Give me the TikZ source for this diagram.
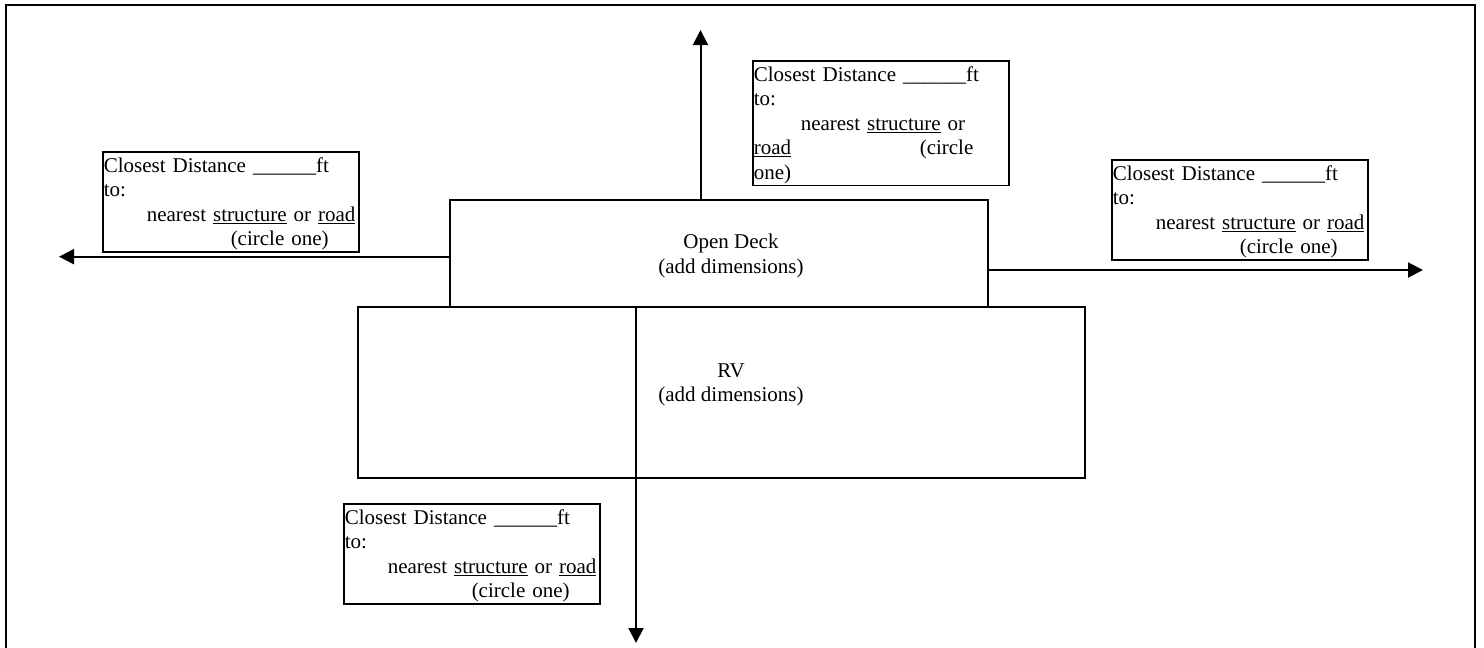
\documentclass[tikz,border=0pt]{standalone}
\usepackage{fontspec}
\setmainfont{Liberation Serif}
\usepackage{tikz}
\usetikzlibrary{arrows.meta}
\newcommand{\blankft}{Closest Distance \_\_\_\_\_\_ft}
\newcommand{\nearestline}{\mbox{nearest \underline{structure} or \underline{road}}}
\newcommand{\topstrut}{\rule{0pt}{19.5pt}}
\newcommand{\botstrut}{\rule[-5pt]{0pt}{5pt}}

\begin{document}
\begin{tikzpicture}[x=1pt,y=-1pt,line width=2pt,every node/.style={font=\fontsize{21}{24.5}\selectfont},area/.style n args={2}{draw,rectangle,minimum width=#1,minimum height=#2,inner sep=0pt,outer sep=0pt},distbox/.style={draw,rectangle,line width=1.5pt,anchor=north west,align=left,text width=254pt,inner xsep=1pt,inner ysep=1pt},dirarrow/.style={-{Triangle[length=15pt,width=15pt]}}]
\useasboundingbox (0,0) rectangle (1484,648);
\draw (6,648) -- (6,5) -- (1475,5) -- (1475,648);
\node[area={538pt}{106.7pt}] (deck) at (719,253.3) {};
\node[area={726.5pt}{171.3pt}] (rv) at (721.25,392.3) {};
\node[align=center] (decklbl) at (731,256) {Open Deck\\(add dimensions)};
\node[align=center] (rvlbl) at (731,385) {RV\\(add dimensions)};
\coordinate (ntip) at (700.5,30);
\coordinate (stip) at (636,643);
\coordinate (wtip) at (59,256.7);
\coordinate (etip) at (1423,270);
\draw[dirarrow] (deck.north -| ntip) -- (ntip);
\draw[dirarrow] (rv.north -| stip) -- (stip);
\draw[dirarrow] (deck.west |- wtip) -- (wtip);
\draw[dirarrow] (deck.east |- etip) -- (etip);
\node[distbox] (nbox) at (752,60) {\topstrut\blankft\\to:\\\hspace*{47pt}nearest \underline{structure} or\\\makebox[166pt][l]{\underline{road}}(circle\\one)\botstrut};
\foreach \n/\x/\y in %
{wbox/102/151,ebox/1111/159,sbox/343/503} {
   \node[distbox] (\n) at (\x,\y) {\topstrut\blankft\\to:\\\hspace*{43pt}\nearestline\\\hspace*{127pt}(circle one)\botstrut};
}
\end{tikzpicture}
\end{document}
